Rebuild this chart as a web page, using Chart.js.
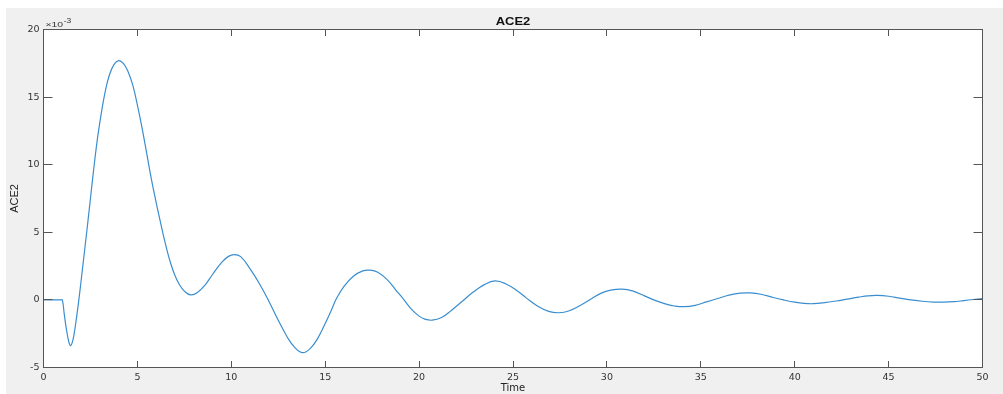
<!DOCTYPE html>
<html>
<head>
<meta charset="utf-8">
<script src="https://cdn.jsdelivr.net/npm/chart.js@4.4.0/dist/chart.umd.min.js"></script>
<style>
  html, body { margin: 0; padding: 0; background: #fff; }
  #plot { position: absolute; left: 6px; top: 8px; background: #f0f0f0; }
</style>
</head>
<body>
<canvas id="plot" width="997" height="386"></canvas>
<script>
// ACE2 response, values in units of 1e-3
const time = [0, 0.5, 0.9, 1.0, 1.1, 1.2, 1.3, 1.38, 1.44, 1.52, 1.62, 1.75, 1.9, 2.1, 2.3, 2.5, 2.7, 2.9,
  3.1, 3.3, 3.5, 3.75, 4.0, 4.25, 4.5, 4.75, 5.0, 5.25, 5.5, 5.75, 6.0, 6.25, 6.5, 6.75, 7.0,
  7.25, 7.5, 7.83, 8.2, 8.6, 9.0, 9.5, 9.85, 10.15, 10.5, 11.0, 11.5, 12.0, 12.5, 13.0, 13.4,
  13.8, 14.2, 14.6, 15.0, 15.3, 15.6, 16.0, 16.5, 17.0, 17.4, 17.8, 18.3, 18.75, 19.2, 19.6, 20.0,
  20.3, 20.7, 21.2, 21.7, 22.3, 22.9, 23.5, 24.05, 24.6, 25.2, 25.7, 26.3, 26.9, 27.45, 28.0,
  28.6, 29.2, 29.7, 30.2, 30.8, 31.4, 32.0, 32.6, 33.2, 33.6, 34.1, 34.7, 35.3, 35.9, 36.5,
  37.1, 37.65, 38.2, 38.8, 39.4, 40.0, 40.5, 41.0, 41.6, 42.2, 42.8, 43.4, 43.9, 44.4, 45.0,
  45.6, 46.2, 46.8, 47.4, 47.9, 48.5, 49.0, 49.5, 50];
const ace2 = [0, 0, 0, 0, -1.0, -2.0, -2.8, -3.25, -3.38, -3.2, -2.6, -1.4, 0.2, 2.6, 5.0, 7.5, 10.0, 12.2,
  14.0, 15.5, 16.6, 17.4, 17.7, 17.5, 16.9, 15.9, 14.4, 12.7, 10.8, 8.9, 7.2, 5.6, 4.1, 2.8, 1.8,
  1.1, 0.65, 0.37, 0.55, 1.1, 1.88, 2.8, 3.22, 3.35, 3.2, 2.3, 1.2, -0.1, -1.5, -2.8, -3.55,
  -3.9, -3.6, -2.85, -1.75, -0.85, 0.1, 1.0, 1.75, 2.15, 2.2, 2.05, 1.5, 0.75, 0.0, -0.7, -1.2,
  -1.42, -1.5, -1.3, -0.8, -0.1, 0.6, 1.15, 1.4, 1.2, 0.7, 0.15, -0.45, -0.85, -0.95, -0.8,
  -0.4, 0.1, 0.5, 0.72, 0.8, 0.65, 0.3, -0.05, -0.33, -0.45, -0.5, -0.4, -0.15, 0.1, 0.35,
  0.5, 0.52, 0.42, 0.2, 0.0, -0.17, -0.26, -0.28, -0.2, -0.08, 0.06, 0.2, 0.3, 0.33, 0.27,
  0.13, 0.0, -0.1, -0.16, -0.17, -0.13, -0.05, 0.03, 0.1];
const xTicks = [0, 5, 10, 15, 20, 25, 30, 35, 40, 45, 50];
const yTicks = [-5, 0, 5, 10, 15, 20];

const tickFont = { family: "'DejaVu Sans', Arial, sans-serif", size: 9.5 };
const axisColor = "#555";
const textColor = "#333";

// MATLAB-like box, inward ticks, title and exponent
const matlabAxes = {
    id: "matlabAxes",
    beforeDraw(chart) {
        const { ctx, chartArea: a } = chart;
        ctx.save();
        ctx.fillStyle = "#fff";
        ctx.fillRect(a.left, a.top, a.right - a.left, a.bottom - a.top);
        ctx.restore();
    },
    afterDraw(chart) {
        const { ctx, chartArea: a, scales } = chart;
        ctx.save();
        ctx.strokeStyle = axisColor;
        ctx.lineWidth = 1;
        ctx.beginPath();
        xTicks.forEach(v => {
            const px = Math.round(scales.x.getPixelForValue(v) - 0.5) + 0.5;
            ctx.moveTo(px, a.bottom); ctx.lineTo(px, a.bottom - 6.5);
            ctx.moveTo(px, a.top); ctx.lineTo(px, a.top + 6.5);
        });
        yTicks.forEach(v => {
            const py = Math.round(scales.y.getPixelForValue(v) - 0.5) + 0.5;
            ctx.moveTo(a.left, py); ctx.lineTo(a.left + 9, py);
            ctx.moveTo(a.right, py); ctx.lineTo(a.right - 9, py);
        });
        ctx.stroke();
        ctx.strokeRect(a.left, a.top, a.right - a.left, a.bottom - a.top);

        // title
        ctx.fillStyle = "#111";
        ctx.textAlign = "center";
        ctx.textBaseline = "middle";
        ctx.save();
        ctx.translate((a.left + a.right) / 2, 14);
        ctx.scale(1.3, 1);
        ctx.font = "bold 10px Arial, 'Liberation Sans', sans-serif";
        ctx.fillText("ACE2", 0, 0);
        ctx.restore();

        // exponent label
        ctx.fillStyle = textColor;
        ctx.textAlign = "left";
        ctx.textBaseline = "alphabetic";
        ctx.save();
        ctx.translate(a.left + 2, 19);
        ctx.scale(1.3, 1);
        ctx.font = "8px Arial, 'Liberation Sans', sans-serif";
        ctx.fillText("\u00d710", 0, 0);
        const w = ctx.measureText("\u00d710").width;
        ctx.font = "6.5px Arial, 'Liberation Sans', sans-serif";
        ctx.fillText("-3", w + 0.5, -4);
        ctx.restore();
        ctx.restore();
    }
};

const points = time.map((t, i) => ({ x: t, y: ace2[i] }));

new Chart(document.getElementById("plot"), {
    type: "line",
    data: {
        datasets: [{
            label: "ACE2",
            data: points,
            borderColor: "#3a8ed0",
            borderWidth: 1.2,
            pointRadius: 0,
            tension: 0.4,
            fill: false
        }]
    },
    options: {
        responsive: false,
        devicePixelRatio: 1,
        animation: false,
        events: [],
        layout: { padding: { left: 0, top: 21.5, right: 20.5, bottom: 0 } },
        plugins: { legend: { display: false }, tooltip: { enabled: false }, title: { display: false } },
        scales: {
            x: {
                type: "linear",
                min: 0,
                max: 50,
                afterFit: s => { s.height = 26.5; },
                afterBuildTicks: s => { s.ticks = xTicks.map(v => ({ value: v })); },
                grid: { display: false, drawTicks: false },
                border: { display: false },
                ticks: { font: tickFont, color: textColor, padding: 4, maxRotation: 0 },
                title: {
                    display: true,
                    text: "Time",
                    color: "#222",
                    font: { family: "'DejaVu Sans', Arial, sans-serif", size: 10, lineHeight: 1 },
                    padding: { top: 0, bottom: 1 }
                }
            },
            y: {
                type: "linear",
                min: -5,
                max: 20,
                afterFit: s => { s.width = 37.5; },
                afterBuildTicks: s => { s.ticks = yTicks.map(v => ({ value: v })); },
                grid: { display: false, drawTicks: false },
                border: { display: false },
                ticks: { font: tickFont, color: textColor, padding: 4 },
                title: {
                    display: true,
                    text: "ACE2",
                    color: "#222",
                    font: { family: "'Liberation Sans Narrow', Arial, sans-serif", size: 11, lineHeight: 1 },
                    padding: { top: 3.5, bottom: 0 }
                }
            }
        }
    },
    plugins: [matlabAxes]
});
</script>
</body>
</html>
